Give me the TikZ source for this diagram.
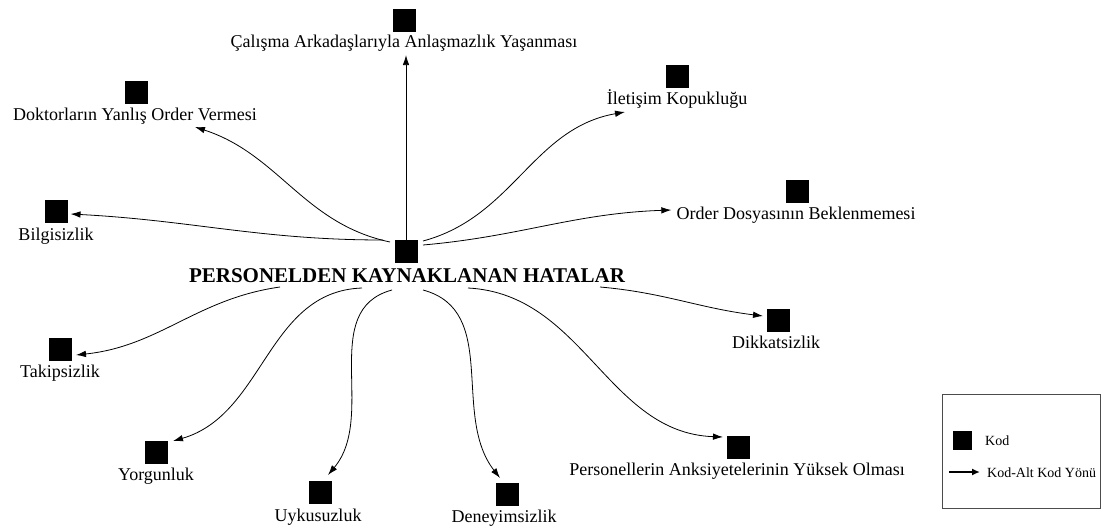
\documentclass[tikz,border=0pt]{standalone}
\usepackage{fontspec}
\setmainfont{Liberation Serif}
\usetikzlibrary{arrows.meta}
\begin{document}
\begin{tikzpicture}[x=1pt,y=1pt,
  kod/.style={fill=black, minimum size=23pt, inner sep=0pt, outer sep=0pt},
  lbl/.style={font=\fontsize{18}{20}\selectfont, inner sep=0pt, anchor=base},
  conn/.style={-{Latex[length=10pt,width=6.5pt]}, line width=0.8pt},
  legbox/.style={draw=black!70, line width=0.8pt, minimum width=158pt, minimum height=114pt, inner sep=0pt}]
\useasboundingbox (0,0) rectangle (1105,-525);

% central code
\node[kod] (csq) at (406,-251) {};
\node[lbl, font=\fontsize{21}{24}\selectfont\bfseries] (ctxt) at (407,-282) {PERSONELDEN KAYNAKLANAN HATALAR};

% sub codes
\node[kod] (tsq) at (404,-20) {};
\node[lbl] (ttxt) at (404,-47) {Çalışma Arkadaşlarıyla Anlaşmazlık Yaşanması};
\node[kod] (dsq) at (136,-92) {};
\node[lbl] (dtxt) at (135,-120) {Doktorların Yanlış Order Vermesi};
\node[kod] (bsq) at (56,-211) {};
\node[lbl] (btxt) at (56,-240) {Bilgisizlik};
\node[kod] (isq) at (677,-76) {};
\node[lbl] (itxt) at (677,-104) {İletişim Kopukluğu};
\node[kod] (osq) at (797,-191) {};
\node[lbl] (otxt) at (796,-219) {Order Dosyasının Beklenmemesi};
\node[kod] (ksq) at (778,-320) {};
\node[lbl] (ktxt) at (776,-348) {Dikkatsizlik};
\node[kod] (psq) at (738,-447) {};
\node[lbl] (ptxt) at (737,-475) {Personellerin Anksiyetelerinin Yüksek Olması};
\node[kod] (nsq) at (507,-494) {};
\node[lbl] (ntxt) at (504,-522) {Deneyimsizlik};
\node[kod] (usq) at (320,-492) {};
\node[lbl] (utxt) at (318,-521) {Uykusuzluk};
\node[kod] (ysq) at (156,-452) {};
\node[lbl] (ytxt) at (156,-480) {Yorgunluk};
\node[kod] (tksq) at (60,-349) {};
\node[lbl] (tktxt) at (60,-377) {Takipsizlik};

% start points of connectors around the central code
\coordinate (sBil) at (383,-240);
\coordinate (sDok) at (390,-242);
\coordinate (sIle) at (423,-241);
\coordinate (sOrd) at (423,-245);
\coordinate (sTak) at (280,-287);
\coordinate (sYor) at (362,-288);
\coordinate (sUyk) at (392,-290);
\coordinate (sDen) at (423,-290);
\coordinate (sPer) at (468,-288);
\coordinate (sDik) at (600,-287);

% connectors
\draw[conn] (csq.north) -- ([yshift=-4pt]csq.north |- ttxt.south);
\draw[conn] (sBil) to[out=180,in=-3] ([shift={(3,-3)}]bsq.east);
\draw[conn] (sDok) to[out=168,in=-18] ([shift={(60,-7)}]dtxt.base);
\draw[conn] (sIle) to[out=15,in=190] ([shift={(-52,-8)}]itxt.base);
\draw[conn] (sOrd) to[out=5,in=182] ([shift={(-5,9)}]otxt.base west);
\draw[conn] (sTak) to[out=188,in=6] ([shift={(4.5,-6)}]tksq.east);
\draw[conn] (sYor) to[out=182,in=16] ([shift={(5.5,-0.5)}]ysq.north east);
\draw[conn] (sUyk) to[out=195,in=50] ([shift={(8,5.5)}]usq.north);
\draw[conn] (sDen) to[out=-15,in=128] ([shift={(-7,4.5)}]nsq.north);
\draw[conn] (sPer) to[out=-3,in=178] ([shift={(-3.5,10)}]psq.west);
\draw[conn] (sDik) to[out=-5,in=173] ([shift={(-3.5,4)}]ksq.west);

% legend
\node[legbox] (leg) at (1021,-451) {};
\node[kod, minimum size=19pt] (lsq) at (962,-440) {};
\node[lbl, anchor=base west, font=\fontsize{14}{16}\selectfont] (lkod) at (985,-445) {Kod};
\coordinate (la) at (949,-472);
\coordinate (lb) at (980,-472);
\draw[-{Latex[length=8pt,width=7pt]}, line width=1.8pt] (la) -- (lb);
\node[lbl, anchor=base west, font=\fontsize{14}{16}\selectfont] (lyon) at (987,-477) {Kod-Alt Kod Yönü};
\end{tikzpicture}
\end{document}
